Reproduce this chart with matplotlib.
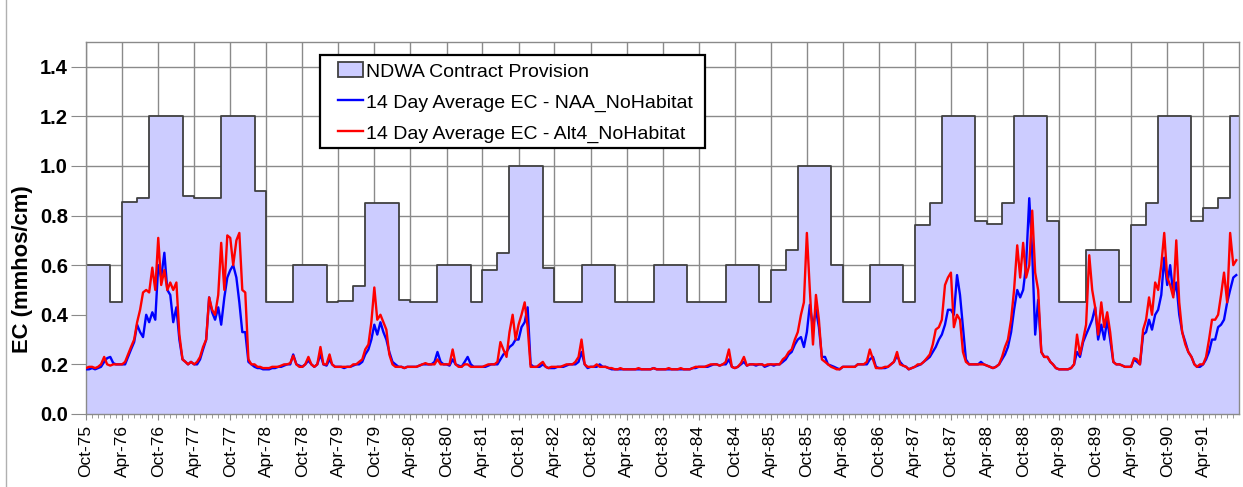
"""
NDWA contract EC standard vs. 14-day average EC, water years 1976-1991.
"""

import matplotlib
matplotlib.use("Agg")
import matplotlib.pyplot as plt
import matplotlib.dates as mdates
from matplotlib.patches import Patch, Rectangle
from matplotlib.lines import Line2D
import pandas as pd

plt.rcParams["font.family"] = ["Liberation Sans", "DejaVu Sans"]

FILL = "#CCCCFF"
EDGE = "#404040"
GRID = "#8a8a8a"

# NDWA contract provision: start date of each step and its EC value
STEP_DATES = [
    "1975-10-01", "1976-02-01", "1976-04-01", "1976-06-16", "1976-08-16",
    "1977-02-01", "1977-04-01", "1977-08-16",
    "1978-02-01", "1978-04-01", "1978-08-16",
    "1979-02-01", "1979-04-01", "1979-06-16", "1979-08-16",
    "1980-02-01", "1980-04-01", "1980-08-16",
    "1981-02-01", "1981-04-01", "1981-06-16", "1981-08-16",
    "1982-02-01", "1982-04-01", "1982-08-16",
    "1983-02-01", "1983-08-16",
    "1984-02-01", "1984-08-16",
    "1985-02-01", "1985-04-01", "1985-06-16", "1985-08-16",
    "1986-02-01", "1986-04-01", "1986-08-16",
    "1987-02-01", "1987-04-01", "1987-06-16", "1987-08-16",
    "1988-02-01", "1988-04-01", "1988-06-16", "1988-08-16",
    "1989-02-01", "1989-04-01", "1989-08-16",
    "1990-02-01", "1990-04-01", "1990-06-16", "1990-08-16",
    "1991-02-01", "1991-04-01", "1991-06-16", "1991-08-16",
    "1991-10-01",
]
STEP_EC = [
    0.60, 0.45, 0.855, 0.87, 1.20,
    0.88, 0.87, 1.20,
    0.90, 0.45, 0.60,
    0.45, 0.455, 0.515, 0.85,
    0.46, 0.45, 0.60,
    0.45, 0.58, 0.65, 1.00,
    0.59, 0.45, 0.60,
    0.45, 0.60,
    0.45, 0.60,
    0.45, 0.58, 0.66, 1.00,
    0.60, 0.45, 0.60,
    0.45, 0.76, 0.85, 1.20,
    0.78, 0.765, 0.85, 1.20,
    0.78, 0.45, 0.66,
    0.45, 0.76, 0.85, 1.20,
    0.78, 0.83, 0.87, 1.20,
    1.20,
]

# 14-day average EC, sampled on the 1st and 16th of each month (one row per water year)
NAA_EC = [
    # WY1976
    0.18, 0.18, 0.185, 0.18, 0.185, 0.19, 0.21, 0.225, 0.23, 0.205, 0.20, 0.20,
    0.20, 0.20, 0.23, 0.26, 0.29, 0.36, 0.33, 0.31, 0.40, 0.37, 0.41, 0.38,
    # WY1977
    0.60, 0.55, 0.65, 0.50, 0.48, 0.37, 0.43, 0.30, 0.22, 0.21, 0.20, 0.21,
    0.20, 0.20, 0.22, 0.26, 0.30, 0.47, 0.41, 0.38, 0.43, 0.36, 0.47, 0.55,
    # WY1978
    0.58, 0.60, 0.55, 0.45, 0.33, 0.33, 0.21, 0.20, 0.19, 0.185, 0.185, 0.18,
    0.18, 0.18, 0.185, 0.185, 0.19, 0.19, 0.195, 0.20, 0.20, 0.24, 0.20, 0.195,
    # WY1979
    0.19, 0.20, 0.215, 0.20, 0.19, 0.20, 0.24, 0.20, 0.195, 0.22, 0.20, 0.19,
    0.19, 0.19, 0.185, 0.19, 0.19, 0.195, 0.20, 0.20, 0.21, 0.24, 0.26, 0.30,
    # WY1980
    0.36, 0.32, 0.37, 0.33, 0.30, 0.25, 0.21, 0.20, 0.19, 0.19, 0.185, 0.19,
    0.19, 0.19, 0.19, 0.195, 0.20, 0.20, 0.20, 0.20, 0.21, 0.25, 0.21, 0.20,
    # WY1981
    0.20, 0.195, 0.22, 0.20, 0.195, 0.19, 0.21, 0.23, 0.20, 0.19, 0.19, 0.19,
    0.19, 0.19, 0.195, 0.20, 0.20, 0.20, 0.22, 0.24, 0.25, 0.27, 0.28, 0.30,
    # WY1982
    0.30, 0.35, 0.37, 0.43, 0.20, 0.19, 0.19, 0.19, 0.20, 0.19, 0.185, 0.185,
    0.185, 0.19, 0.19, 0.19, 0.195, 0.20, 0.20, 0.20, 0.21, 0.25, 0.20, 0.185,
    # WY1983
    0.19, 0.19, 0.19, 0.20, 0.19, 0.19, 0.185, 0.18, 0.18, 0.18, 0.18, 0.18,
    0.18, 0.18, 0.18, 0.18, 0.18, 0.18, 0.18, 0.18, 0.18, 0.185, 0.18, 0.18,
    # WY1984
    0.18, 0.18, 0.18, 0.18, 0.18, 0.18, 0.18, 0.18, 0.18, 0.18, 0.185, 0.185,
    0.19, 0.19, 0.19, 0.19, 0.195, 0.20, 0.20, 0.195, 0.20, 0.20, 0.22, 0.19,
    # WY1985
    0.185, 0.19, 0.20, 0.21, 0.195, 0.20, 0.20, 0.195, 0.20, 0.20, 0.19, 0.195,
    0.20, 0.195, 0.20, 0.20, 0.21, 0.22, 0.24, 0.25, 0.28, 0.30, 0.31, 0.27,
    # WY1986
    0.33, 0.44, 0.35, 0.42, 0.35, 0.23, 0.23, 0.20, 0.195, 0.19, 0.185, 0.18,
    0.19, 0.19, 0.19, 0.19, 0.19, 0.20, 0.20, 0.20, 0.20, 0.22, 0.23, 0.19,
    # WY1987
    0.185, 0.185, 0.185, 0.19, 0.20, 0.21, 0.235, 0.21, 0.195, 0.19, 0.18, 0.185,
    0.19, 0.195, 0.20, 0.21, 0.22, 0.23, 0.25, 0.27, 0.30, 0.32, 0.36, 0.42,
    # WY1988
    0.42, 0.40, 0.56, 0.48, 0.35, 0.22, 0.20, 0.20, 0.20, 0.20, 0.21, 0.20,
    0.195, 0.19, 0.185, 0.19, 0.20, 0.22, 0.24, 0.27, 0.33, 0.42, 0.50, 0.47,
    # WY1989
    0.50, 0.60, 0.87, 0.65, 0.32, 0.46, 0.25, 0.23, 0.23, 0.21, 0.20, 0.185,
    0.18, 0.18, 0.18, 0.18, 0.185, 0.20, 0.25, 0.23, 0.29, 0.32, 0.35, 0.38,
    # WY1990
    0.43, 0.30, 0.36, 0.30, 0.38, 0.30, 0.21, 0.20, 0.20, 0.195, 0.19, 0.19,
    0.19, 0.22, 0.21, 0.20, 0.32, 0.33, 0.38, 0.34, 0.40, 0.42, 0.48, 0.63,
    # WY1991
    0.52, 0.60, 0.48, 0.53, 0.40, 0.33, 0.29, 0.25, 0.23, 0.20, 0.19, 0.19,
    0.20, 0.22, 0.25, 0.30, 0.30, 0.35, 0.36, 0.38, 0.45, 0.50, 0.55, 0.56,
]
ALT4_EC = [
    # WY1976
    0.185, 0.19, 0.19, 0.185, 0.19, 0.20, 0.23, 0.20, 0.195, 0.20, 0.20, 0.20,
    0.20, 0.21, 0.24, 0.27, 0.30, 0.37, 0.42, 0.49, 0.50, 0.49, 0.59, 0.50,
    # WY1977
    0.71, 0.52, 0.58, 0.50, 0.53, 0.50, 0.53, 0.32, 0.22, 0.21, 0.20, 0.21,
    0.20, 0.21, 0.23, 0.27, 0.30, 0.47, 0.42, 0.40, 0.48, 0.69, 0.50, 0.72,
    # WY1978
    0.71, 0.60, 0.70, 0.73, 0.50, 0.49, 0.22, 0.20, 0.20, 0.19, 0.19, 0.185,
    0.185, 0.185, 0.19, 0.19, 0.19, 0.195, 0.20, 0.20, 0.205, 0.235, 0.20, 0.19,
    # WY1979
    0.19, 0.20, 0.23, 0.20, 0.19, 0.20, 0.27, 0.20, 0.20, 0.24, 0.20, 0.19,
    0.19, 0.19, 0.19, 0.19, 0.19, 0.20, 0.20, 0.21, 0.22, 0.26, 0.28, 0.37,
    # WY1980
    0.51, 0.38, 0.40, 0.37, 0.34, 0.24, 0.20, 0.19, 0.19, 0.19, 0.185, 0.19,
    0.19, 0.19, 0.19, 0.195, 0.20, 0.205, 0.20, 0.20, 0.20, 0.22, 0.20, 0.20,
    # WY1981
    0.20, 0.20, 0.26, 0.20, 0.19, 0.19, 0.20, 0.20, 0.19, 0.19, 0.19, 0.19,
    0.19, 0.195, 0.20, 0.20, 0.20, 0.21, 0.29, 0.26, 0.23, 0.33, 0.40, 0.30,
    # WY1982
    0.36, 0.40, 0.45, 0.35, 0.19, 0.19, 0.19, 0.20, 0.21, 0.19, 0.185, 0.19,
    0.19, 0.19, 0.19, 0.195, 0.20, 0.20, 0.20, 0.21, 0.23, 0.30, 0.20, 0.19,
    # WY1983
    0.19, 0.19, 0.20, 0.19, 0.19, 0.19, 0.185, 0.185, 0.18, 0.18, 0.185, 0.18,
    0.18, 0.18, 0.18, 0.18, 0.185, 0.18, 0.18, 0.18, 0.18, 0.185, 0.18, 0.18,
    # WY1984
    0.18, 0.18, 0.185, 0.18, 0.18, 0.18, 0.185, 0.18, 0.18, 0.18, 0.185, 0.19,
    0.19, 0.19, 0.19, 0.195, 0.20, 0.20, 0.20, 0.195, 0.20, 0.21, 0.26, 0.19,
    # WY1985
    0.185, 0.19, 0.205, 0.23, 0.195, 0.20, 0.20, 0.20, 0.20, 0.20, 0.195, 0.20,
    0.20, 0.20, 0.20, 0.20, 0.22, 0.23, 0.25, 0.26, 0.30, 0.33, 0.40, 0.45,
    # WY1986
    0.73, 0.50, 0.28, 0.48, 0.38, 0.22, 0.21, 0.20, 0.19, 0.185, 0.18, 0.18,
    0.19, 0.19, 0.19, 0.19, 0.19, 0.20, 0.20, 0.20, 0.21, 0.26, 0.22, 0.185,
    # WY1987
    0.185, 0.185, 0.19, 0.19, 0.20, 0.21, 0.25, 0.20, 0.195, 0.19, 0.18, 0.185,
    0.19, 0.20, 0.20, 0.21, 0.225, 0.24, 0.28, 0.34, 0.35, 0.38, 0.52, 0.55,
    # WY1988
    0.57, 0.35, 0.40, 0.38, 0.25, 0.21, 0.20, 0.20, 0.20, 0.20, 0.20, 0.20,
    0.195, 0.19, 0.185, 0.19, 0.20, 0.23, 0.27, 0.30, 0.38, 0.50, 0.68, 0.55,
    # WY1989
    0.69, 0.55, 0.60, 0.82, 0.57, 0.50, 0.25, 0.23, 0.23, 0.21, 0.20, 0.185,
    0.18, 0.18, 0.18, 0.18, 0.185, 0.20, 0.32, 0.24, 0.30, 0.36, 0.64, 0.50,
    # WY1990
    0.43, 0.32, 0.45, 0.35, 0.41, 0.33, 0.21, 0.20, 0.20, 0.195, 0.19, 0.19,
    0.19, 0.225, 0.22, 0.20, 0.34, 0.38, 0.47, 0.40, 0.53, 0.50, 0.60, 0.73,
    # WY1991
    0.55, 0.52, 0.47, 0.70, 0.45, 0.33, 0.28, 0.25, 0.23, 0.20, 0.19, 0.20,
    0.20, 0.23, 0.30, 0.38, 0.38, 0.40, 0.48, 0.57, 0.45, 0.73, 0.60, 0.62,
]

LABELS = [
    "NDWA Contract Provision",
    "14 Day Average EC - NAA_NoHabitat",
    "14 Day Average EC - Alt4_NoHabitat",
]


def build():
    month_starts = pd.date_range("1975-10-01", "1991-09-01", freq="MS")
    ec_dates = sorted(list(month_starts) + list(month_starts + pd.Timedelta(days=15)))
    step_dates = pd.to_datetime(STEP_DATES)

    fig = plt.figure(figsize=(12.43, 4.87), dpi=100)
    ax = fig.add_axes([0.0692, 0.150, 0.9276, 0.7638])

    # page edge on the left
    fig.add_artist(Line2D([0.005, 0.005], [0, 1], transform=fig.transFigure,
                          color="#b0b0b0", linewidth=1.0))

    ax.fill_between(step_dates, STEP_EC, 0, step="post", facecolor=FILL,
                    edgecolor="none", zorder=1)
    ax.step(step_dates, STEP_EC, where="post", color=EDGE, linewidth=1.3, zorder=2)
    ax.plot(ec_dates, NAA_EC, color="#0000FF", linewidth=1.7, zorder=3)
    ax.plot(ec_dates, ALT4_EC, color="#FF0000", linewidth=1.7, zorder=4)

    ax.set_xlim(pd.Timestamp("1975-10-01"), pd.Timestamp("1991-09-30"))
    ax.set_ylim(0, 1.5)
    ax.set_yticks([0.0, 0.2, 0.4, 0.6, 0.8, 1.0, 1.2, 1.4])
    ax.yaxis.set_major_formatter(plt.FormatStrFormatter("%.1f"))

    ax.xaxis.set_major_locator(mdates.MonthLocator(bymonth=[4, 10], bymonthday=1))
    ax.xaxis.set_minor_locator(mdates.MonthLocator(bymonthday=1))
    ax.xaxis.set_major_formatter(mdates.DateFormatter("%b-%y"))

    ax.set_axisbelow(True)
    ax.grid(True, which="major", color=GRID, linewidth=1.0)
    for s in ax.spines.values():
        s.set_color(GRID)
        s.set_linewidth(1.0)

    ax.tick_params(axis="y", which="major", length=11, color=GRID, pad=2,
                   labelsize=14.5)
    ax.tick_params(axis="x", which="major", length=4, color=GRID, pad=4,
                   labelsize=12.5, labelrotation=90)
    ax.tick_params(axis="x", which="minor", length=3, color=GRID)
    for lab in ax.get_yticklabels():
        lab.set_fontweight("bold")

    ax.set_ylabel("EC (mmhos/cm)", fontsize=15.8, fontweight="bold")
    ax.yaxis.set_label_coords(-0.046, 0.39)

    # legend frame drawn as its own box, entries placed inside it
    ax.add_patch(Rectangle((0.203, 0.715), 0.334, 0.250, transform=ax.transAxes,
                           facecolor="white", edgecolor="black", linewidth=1.6,
                           zorder=5))
    handles = [
        Patch(facecolor=FILL, edgecolor=EDGE, linewidth=1.3),
        Line2D([], [], color="#0000FF", linewidth=1.7),
        Line2D([], [], color="#FF0000", linewidth=1.7),
    ]
    leg = ax.legend(handles, LABELS, loc="upper left",
                    bbox_to_anchor=(0.2186, 0.945), borderaxespad=0,
                    borderpad=0, fontsize=14, frameon=False,
                    handlelength=1.3, handleheight=0.8, handletextpad=0.15,
                    labelspacing=0.65)
    leg.set_zorder(6)

    fig.savefig("out.png", dpi=100, facecolor="white")
    plt.close(fig)


if __name__ == "__main__":
    build()
